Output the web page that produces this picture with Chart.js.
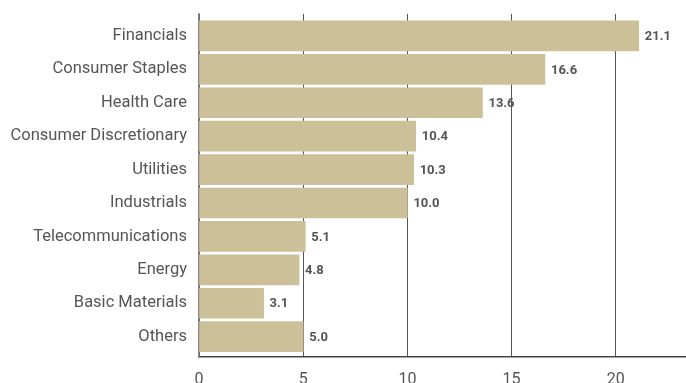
<!DOCTYPE html>
<html>
<head>
<meta charset="utf-8">
<script src="https://cdn.jsdelivr.net/npm/chart.js"></script>
<style>
  html, body { margin: 0; padding: 0; background: #fff; overflow: hidden; }
  #wrap { width: 742px; height: 406px; position: relative; margin-top: -8px; }
</style>
</head>
<body>
<div id="wrap"><canvas id="chart"></canvas></div>
<script>
const sectors = ['Financials', 'Consumer Staples', 'Health Care', 'Consumer Discretionary', 'Utilities',
  'Industrials', 'Telecommunications', 'Energy', 'Basic Materials', 'Others'];
const weights = [21.1, 16.6, 13.6, 10.4, 10.3, 10.0, 5.1, 4.8, 3.1, 5.0];
const xTicks = [0, 5, 10, 15, 20, 25];

// draws the value next to each bar
const valueLabels = {
  id: 'valueLabels',
  afterDatasetsDraw(chart) {
    const { ctx } = chart;
    const meta = chart.getDatasetMeta(0);
    ctx.save();
    ctx.font = 'bold 13px Roboto';
    ctx.fillStyle = '#555';
    ctx.textAlign = 'left';
    ctx.textBaseline = 'middle';
    meta.data.forEach((bar, i) => {
      ctx.fillText(weights[i].toFixed(1), bar.x + 6, bar.y + 1);
    });
    ctx.restore();
  },
};

new Chart(document.getElementById('chart'), {
  type: 'bar',
  data: {
    datasets: [{
      data: weights.map((w, i) => ({ x: w, y: i })),
      backgroundColor: '#cbc098',
      borderWidth: 0,
      barThickness: 30,
    }],
  },
  options: {
    indexAxis: 'y',
    responsive: true,
    maintainAspectRatio: false,
    animation: false,
    layout: { padding: { top: 5, right: 0, left: 0, bottom: 0 } },
    plugins: { legend: { display: false }, tooltip: { enabled: false } },
    scales: {
      x: {
        min: 0,
        max: 25,
        afterBuildTicks: (axis) => { axis.ticks = xTicks.map((v) => ({ value: v })); },
        afterFit: (axis) => { axis.height = 41; },
        grid: { color: '#555', lineWidth: 1, drawTicks: false },
        border: { color: '#444', width: 1.5 },
        ticks: { color: '#555', font: { family: 'Roboto', size: 16 }, padding: 13 },
      },
      y: {
        type: 'linear',
        reverse: true,
        offset: false,
        min: -0.66,
        max: 9.61,
        afterBuildTicks: (axis) => { axis.ticks = sectors.map((s, i) => ({ value: i })); },
        afterFit: (axis) => { axis.width = 199; },
        grid: { display: false, drawTicks: false, offset: false },
        border: { color: '#888', width: 1.5 },
        ticks: {
          color: '#555',
          font: { family: 'Roboto', size: 16.5 },
          padding: 12,
          callback: (v) => sectors[v],
        },
      },
    },
  },
  plugins: [valueLabels],
});
</script>
</body>
</html>
